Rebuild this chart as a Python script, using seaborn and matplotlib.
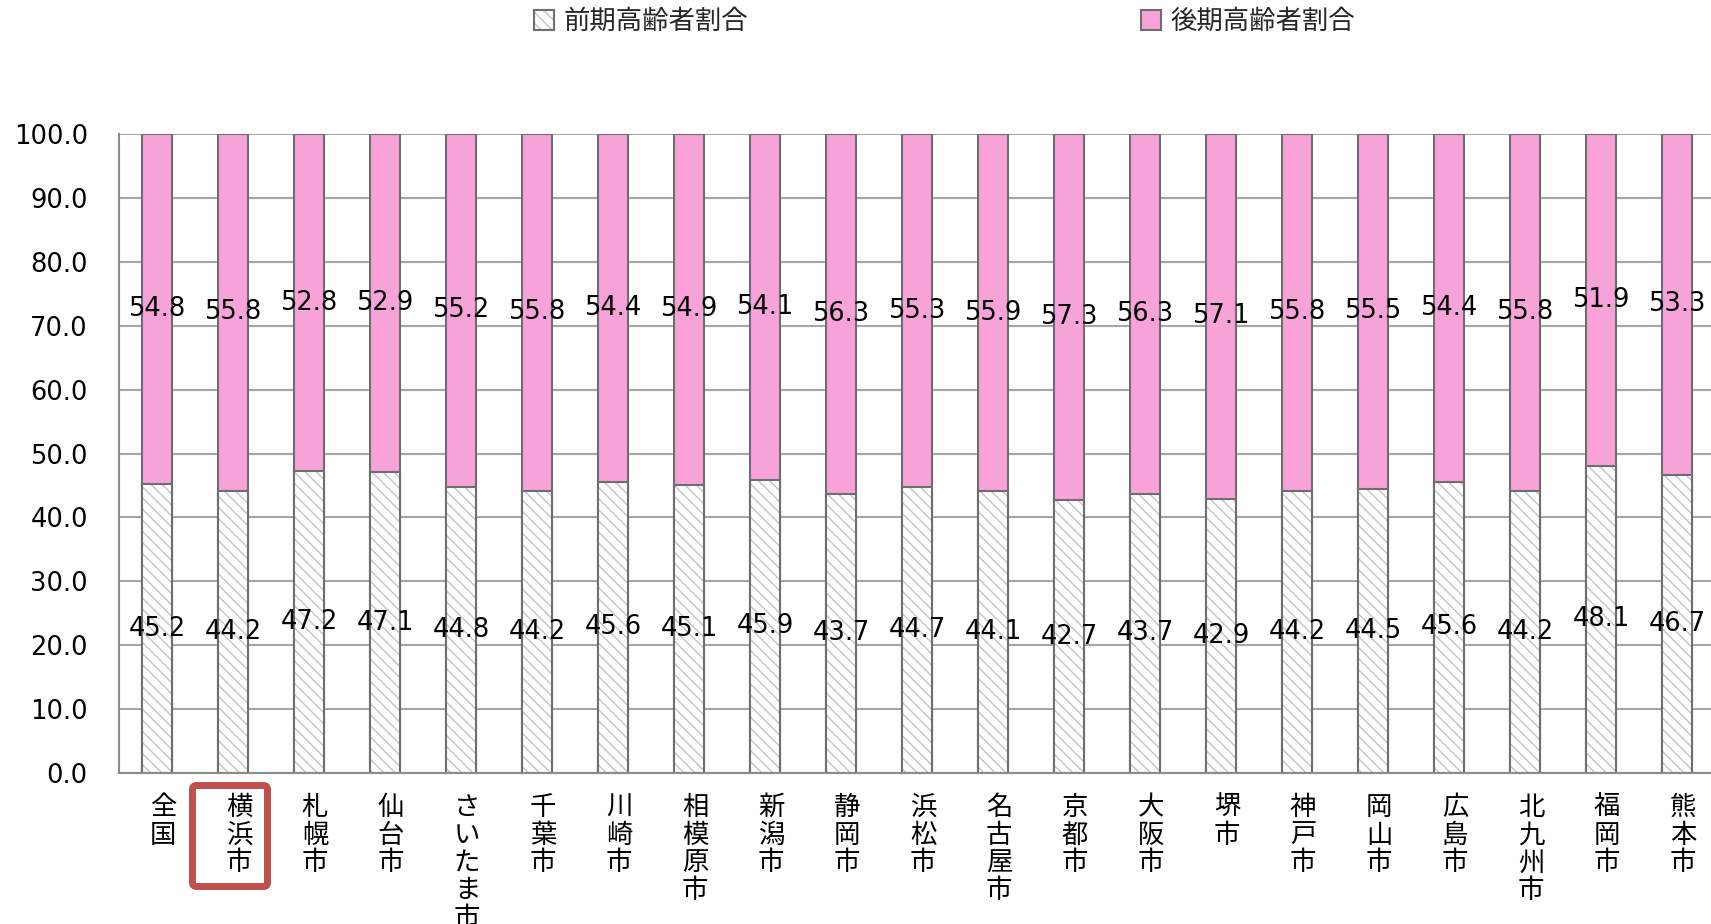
import matplotlib
matplotlib.use("Agg")
import matplotlib.pyplot as plt
import matplotlib.patches as mpatches
import matplotlib.transforms as mtransforms
from matplotlib.legend_handler import HandlerTuple
import seaborn as sns
import pandas as pd

# 区分
cities = ["全国", "横浜市", "札幌市", "仙台市", "さいたま市", "千葉市", "川崎市",
          "相模原市", "新潟市", "静岡市", "浜松市", "名古屋市", "京都市", "大阪市",
          "堺市", "神戸市", "岡山市", "広島市", "北九州市", "福岡市", "熊本市"]
# 前期高齢者割合 (%)
early = [45.2, 44.2, 47.2, 47.1, 44.8, 44.2, 45.6, 45.1, 45.9, 43.7, 44.7,
         44.1, 42.7, 43.7, 42.9, 44.2, 44.5, 45.6, 44.2, 48.1, 46.7]
# 後期高齢者割合 (%)
late = [54.8, 55.8, 52.8, 52.9, 55.2, 55.8, 54.4, 54.9, 54.1, 56.3, 55.3,
        55.9, 57.3, 56.3, 57.1, 55.8, 55.5, 54.4, 55.8, 51.9, 53.3]
series_names = ["前期高齢者割合", "後期高齢者割合"]
highlight = "横浜市"

df = pd.DataFrame({"city": cities, "early": early, "late": late})
df["total"] = df["early"] + df["late"]

PINK = "#F8A2DA"
EDGE = "#6E6E6E"
HATCH_GRAY = "#C4C4C4"
GRID = "#A6A6A6"
HATCH = "\\" * 3
BAR_W = 0.4
FS = 18.5
JP_FS = 19

sns.set_theme(style="white")
plt.rcParams["font.family"] = ["DejaVu Sans", "Noto Sans CJK JP"]
plt.rcParams["hatch.linewidth"] = 1.0

fig = plt.figure(figsize=(17.11, 9.24), dpi=100)
ax = fig.add_axes([119 / 1711, 151 / 924, 1596 / 1711, 639 / 924])

# upper segment (drawn full height, lower segment painted over it)
sns.barplot(data=df, x="city", y="total", color=PINK, saturation=1, width=BAR_W,
            errorbar=None, edgecolor=EDGE, linewidth=1.5, ax=ax, zorder=2)
n0 = len(ax.patches)
# lower segment: white with diagonal hatch
sns.barplot(data=df, x="city", y="early", color="white", saturation=1, width=BAR_W,
            errorbar=None, ax=ax, zorder=3)
for p in ax.patches[n0:]:
    p.set_facecolor("white")
    p.set_edgecolor(HATCH_GRAY)
    p.set_hatch(HATCH)
    p.set_linewidth(0)
n1 = len(ax.patches)
# outline of the lower segment
sns.barplot(data=df, x="city", y="early", color="white", saturation=1, width=BAR_W,
            errorbar=None, ax=ax, zorder=4)
for p in ax.patches[n1:]:
    p.set_facecolor("none")
    p.set_edgecolor(EDGE)
    p.set_linewidth(1.5)

# value labels at the centre of each segment
for i, (e, l) in enumerate(zip(df["early"], df["late"])):
    ax.text(i, e / 2, f"{e:.1f}", ha="center", va="center", fontsize=FS,
            color="black", zorder=6)
    ax.text(i, e + l / 2, f"{l:.1f}", ha="center", va="center", fontsize=FS,
            color="black", zorder=6)

ax.set_xlim(-0.5, len(cities) - 0.5)
ax.set_ylim(0, 100)
ax.set_yticks(range(0, 101, 10))
ax.set_yticklabels([f"{v:.1f}" for v in range(0, 101, 10)], fontsize=FS)
ax.set_xlabel("")
ax.set_ylabel("")

ax.yaxis.grid(True, color=GRID, linewidth=1.5)
ax.xaxis.grid(False)
ax.set_axisbelow(True)
for s in ["top", "right"]:
    ax.spines[s].set_visible(False)
for s in ["left", "bottom"]:
    ax.spines[s].set_color("#8A8A8A")
    ax.spines[s].set_linewidth(1.5)
ax.spines["bottom"].set_zorder(5)

ax.tick_params(axis="y", which="major", length=6.5, width=1.5, color=GRID,
               pad=16, labelcolor="black")
# vertical stacked category labels
ax.set_xticks(range(len(cities)))
ax.set_xticklabels(["\n".join(c) for c in cities], fontsize=JP_FS,
                   va="top", linespacing=1.08)
ax.tick_params(axis="x", which="major", length=0, pad=16, labelcolor="black")
ax.set_xticks([i - 0.5 for i in range(len(cities) + 1)], minor=True)
ax.tick_params(axis="x", which="minor", length=6, width=1.5, color="#8A8A8A")
shift = mtransforms.ScaledTranslation(6 / 100, 0, fig.dpi_scale_trans)
for lab in ax.get_xticklabels():
    lab.set_transform(lab.get_transform() + shift)

# legend
h_early = (mpatches.Patch(facecolor="white", edgecolor=HATCH_GRAY, hatch=HATCH,
                          linewidth=0),
           mpatches.Patch(facecolor="none", edgecolor=EDGE, linewidth=1.5))
h_late = mpatches.Patch(facecolor=PINK, edgecolor=EDGE, linewidth=1.5)
ax.legend([h_early, h_late], series_names, loc="center",
          bbox_to_anchor=(0.552, 0.976), bbox_transform=fig.transFigure,
          ncol=2, frameon=False, fontsize=JP_FS, handlelength=0.75,
          handleheight=0.75, handletextpad=0.35, columnspacing=14.9,
          handler_map={tuple: HandlerTuple(ndivide=1, pad=0)})

# highlight frame around the selected city label
fig.canvas.draw()
idx = cities.index(highlight)
cx, base_y = ax.transData.transform((idx, 0))
box_w, top_gap, box_h = 75, 12.5, 101
frame = mpatches.FancyBboxPatch((cx - 3 - box_w / 2, base_y - top_gap - box_h),
                                box_w, box_h,
                                boxstyle="round,pad=0,rounding_size=4",
                                transform=mtransforms.IdentityTransform(),
                                facecolor="none", edgecolor="#C0504D",
                                linewidth=5, clip_on=False, zorder=10)
fig.add_artist(frame)

fig.savefig("out.png", dpi=100)
